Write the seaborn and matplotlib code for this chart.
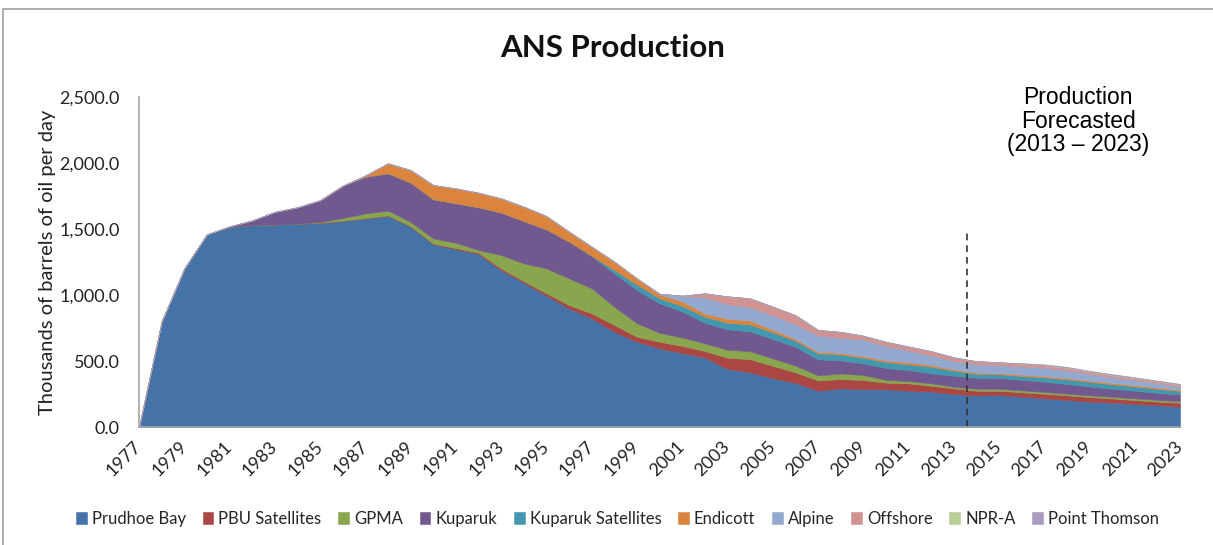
import matplotlib
matplotlib.use("Agg")
import matplotlib.pyplot as plt
from matplotlib.ticker import StrMethodFormatter
from matplotlib.patches import Rectangle
import seaborn as sns

sns.set_theme(style="white")
plt.rcParams['font.family'] = ['Lato', 'DejaVu Sans']

years = list(range(1977, 2024))

# thousands of barrels per day, 1977..2023
prudhoe = [0, 800, 1200, 1460, 1515, 1530, 1535, 1540, 1545, 1560,
           1580, 1600, 1517, 1384, 1348, 1311, 1189, 1093, 995, 899,
           823, 722, 646, 596, 560, 528, 440, 415, 370, 335,
           275, 293, 286, 286, 275, 268, 250, 240, 242, 230,
           217, 205, 192, 184, 174, 165, 154]
pbu_sat = [0, 0, 0, 0, 0, 0, 0, 0, 3, 3,
           3, 3, 5, 5, 8, 10, 13, 12, 18, 25,
           38, 51, 38, 50, 55, 48, 85, 99, 94, 80,
           78, 70, 70, 50, 56, 45, 43, 35, 33, 33,
           35, 35, 35, 32, 30, 28, 30]
gpma = [0, 0, 0, 0, 0, 0, 0, 0, 5, 20,
        35, 36, 33, 40, 40, 20, 101, 135, 189, 202,
        190, 139, 102, 68, 63, 58, 60, 61, 56, 51,
        39, 42, 38, 22, 17, 18, 12, 15, 15, 15,
        14, 13, 13, 13, 13, 13, 12]
kuparuk = [0, 0, 0, 0, 5, 35, 95, 125, 165, 245,
           278, 283, 296, 296, 299, 323, 321, 320, 295, 278,
           244, 252, 252, 223, 198, 156, 155, 150, 148, 142,
           121, 100, 88, 90, 84, 76, 84, 83, 82, 80,
           77, 73, 67, 62, 58, 53, 50]
kup_sat = [0, 0, 0, 0, 0, 0, 0, 0, 0, 0,
           0, 0, 0, 0, 0, 0, 0, 0, 0, 0,
           3, 26, 42, 38, 42, 46, 50, 52, 50, 46,
           45, 44, 43, 45, 43, 50, 38, 30, 28, 29,
           33, 35, 35, 33, 32, 30, 27]
endicott = [0, 0, 0, 0, 0, 0, 0, 0, 0, 0,
            10, 76, 96, 108, 113, 111, 108, 109, 101, 76,
            68, 63, 46, 30, 34, 25, 30, 30, 20, 14,
            12, 12, 12, 13, 15, 13, 10, 9, 9, 10,
            10, 10, 10, 10, 10, 10, 10]
alpine = [0, 0, 0, 0, 0, 0, 0, 0, 0, 0,
          0, 0, 0, 0, 0, 0, 0, 0, 0, 0,
          0, 0, 0, 5, 43, 121, 110, 101, 110, 111,
          125, 115, 125, 110, 90, 72, 63, 63, 60, 62,
          63, 60, 50, 44, 38, 32, 25]
offshore = [0, 0, 0, 0, 0, 0, 0, 0, 0, 0,
            0, 0, 0, 0, 0, 0, 0, 0, 0, 0,
            0, 0, 0, 0, 0, 31, 60, 67, 64, 69,
            41, 45, 30, 30, 30, 33, 28, 24, 22, 20,
            18, 17, 16, 15, 14, 13, 12]
npra = [0, 0, 0, 0, 0, 0, 0, 0, 0, 0,
        0, 0, 0, 0, 0, 0, 0, 0, 0, 0,
        0, 0, 0, 0, 0, 0, 0, 0, 0, 0,
        0, 0, 0, 0, 0, 0, 0, 0, 0, 2,
        3, 3, 3, 3, 3, 3, 3]
thomson = [0, 0, 0, 0, 0, 0, 0, 0, 0, 0,
           0, 0, 0, 0, 0, 0, 0, 0, 0, 0,
           0, 0, 0, 0, 0, 0, 0, 0, 0, 0,
           0, 0, 0, 0, 0, 0, 0, 0, 0, 3,
           5, 5, 5, 5, 5, 5, 4]

labels = ["Prudhoe Bay", "PBU Satellites", "GPMA", "Kuparuk", "Kuparuk Satellites",
          "Endicott", "Alpine", "Offshore", "NPR-A", "Point Thomson"]
colors = ["#4572A7", "#AA4643", "#89A54E", "#71588F", "#4198AF",
          "#DB843D", "#93A9CF", "#D19392", "#B9CD96", "#A99BBD"]

forecast_x = 2013.6
forecast_top = 1490

fig = plt.figure(figsize=(12.13, 5.45), dpi=100)
ax = fig.add_axes([0.1146, 0.2165, 0.8582, 0.6055])

series = [prudhoe, pbu_sat, gpma, kuparuk, kup_sat, endicott, alpine, offshore, npra, thomson]
polys = ax.stackplot(years, *series, labels=labels, colors=colors, linewidth=0)
for p, c in zip(polys, colors):
    p.set_edgecolor(c)
    p.set_linewidth(0.4)

ax.vlines(forecast_x, 0, forecast_top, colors="#333333", linestyles=(0, (4, 3)), linewidth=1.2)

ax.set_xlim(1977, 2023)
ax.set_ylim(0, 2500)
ax.set_yticks(range(0, 2501, 500))
ax.yaxis.set_major_formatter(StrMethodFormatter("{x:,.1f}"))
ax.set_xticks(years[::2])
ax.set_xticklabels([str(y) for y in years[::2]], rotation=45, ha="right", va="center",
                   rotation_mode="anchor")
ax.tick_params(axis="y", length=0, labelsize=13, pad=14, colors="#222222")
ax.tick_params(axis="x", length=0, labelsize=13, pad=12, colors="#222222")

sns.despine(ax=ax)
for s in ["left", "bottom"]:
    ax.spines[s].set_color("#A6A6A6")
    ax.spines[s].set_linewidth(1.2)

ax.set_ylabel("Thousands of barrels of oil per day", fontsize=14.5, color="#222222", labelpad=2)

fig.text(0.505, 1 - 48 / 545, "ANS Production", ha="center", va="center",
         fontsize=22.5, fontweight="bold", color="#111111")

ax.text(2018.5, 2318, "Production\nForecasted\n(2013 \u2013 2023)", ha="center", va="center",
        fontsize=16.5, family=["Liberation Sans", "DejaVu Sans"], linespacing=1.05, color="black")

ax.legend(loc="center", bbox_to_anchor=(0.509, 0.048), bbox_transform=fig.transFigure,
          ncol=10, frameon=False, fontsize=12, handlelength=0.65, handleheight=0.65,
          handletextpad=0.3, columnspacing=1.0)

fig.patches.append(Rectangle((3 / 1213, -0.05), 1.1, 0.05 + 1 - 9 / 545, transform=fig.transFigure,
                             fill=False, edgecolor="#A0A0A0", linewidth=1.2))

fig.savefig("out.png", dpi=100)
